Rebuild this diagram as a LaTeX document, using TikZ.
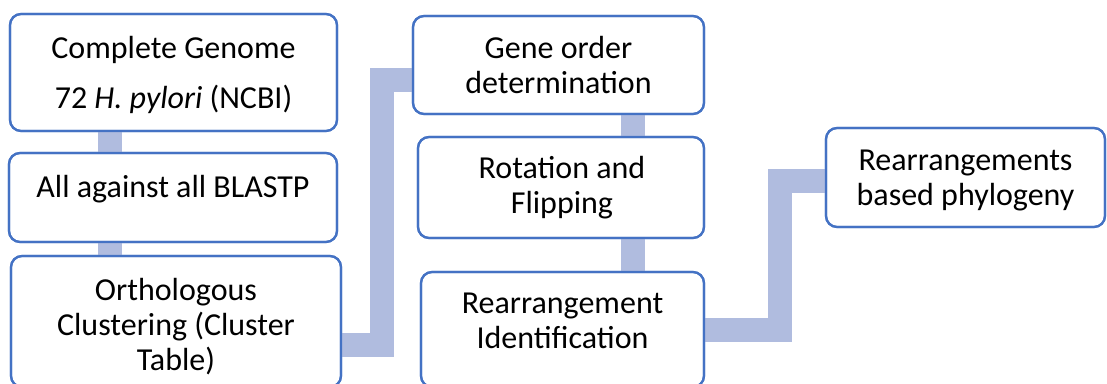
\documentclass[tikz,border=0pt]{standalone}
\usepackage{fontspec}
\setmainfont{Carlito}
\definecolor{boxblue}{RGB}{68,114,196}
\definecolor{connblue}{RGB}{176,188,223}
\begin{document}
\begin{tikzpicture}[x=1pt,y=-1pt,
  stepbox/.style={draw=boxblue, line width=2.2pt, rounded corners=11pt, fill=white},
  outline/.style={draw=boxblue, line width=2.2pt, rounded corners=11pt},
  conn/.style={draw=connblue, line width=24pt, line cap=butt, line join=miter},
  txt/.style={font=\fontsize{32}{35}\selectfont, inner sep=0pt, anchor=base}]
\useasboundingbox (0,0) rectangle (1107,383);
\clip (0,0) rectangle (1107,383);
% boxes (filled)
\path[stepbox] (10,14) rectangle (337,131);
\path[stepbox] (9,153) rectangle (337,242);
\path[stepbox] (11,256) rectangle (341,387);
\path[stepbox] (413,16) rectangle (704,114);
\path[stepbox] (418,137) rectangle (704,238);
\path[stepbox] (421,272) rectangle (704,387);
\path[stepbox] (826,128) rectangle (1105,227);
% connector end points
\coordinate (c12a) at (110,131); \coordinate (c12b) at (110,153);
\coordinate (c23a) at (110,242); \coordinate (c23b) at (110,256);
\coordinate (c34a) at (341,345); \coordinate (c34b) at (413,80);
\coordinate (c45a) at (632.5,114); \coordinate (c45b) at (632.5,137);
\coordinate (c56a) at (632.5,238); \coordinate (c56b) at (632.5,272);
\coordinate (c67a) at (704,330); \coordinate (c67b) at (826,180.5);
\draw[conn] (c12a) -- (c12b);
\draw[conn] (c23a) -- (c23b);
\draw[conn] (c34a) -- (382,345) -- (382,80) -- (c34b);
\draw[conn] (c45a) -- (c45b);
\draw[conn] (c56a) -- (c56b);
\draw[conn] (c67a) -- (779.5,330) -- (779.5,180.5) -- (c67b);
% box outlines over connector ends
\draw[outline] (10,14) rectangle (337,131);
\draw[outline] (9,153) rectangle (337,242);
\draw[outline] (11,256) rectangle (341,387);
\draw[outline] (413,16) rectangle (704,114);
\draw[outline] (418,137) rectangle (704,238);
\draw[outline] (421,272) rectangle (704,387);
\draw[outline] (826,128) rectangle (1105,227);
% texts
\node[txt] (t1a) at (173.5,58) {Complete Genome};
\node[txt] (t1b) at (173.5,108) {72 \textit{H. pylori} (NCBI)};
\node[txt] (t2) at (173,197) {All against all BLASTP};
\node[txt] (t3a) at (176,300) {Orthologous};
\node[txt] (t3b) at (176,335) {Clustering (Cluster};
\node[txt] (t3c) at (176,370) {Table)};
\node[txt] (t4a) at (558.5,58) {Gene order};
\node[txt] (t4b) at (558.5,93) {determination};
\node[txt] (t5a) at (562,178) {Rotation and};
\node[txt] (t5b) at (562,213) {Flipping};
\node[txt] (t6a) at (562.5,313) {Rearrangement};
\node[txt] (t6b) at (562.5,348) {Identification};
\node[txt] (t7a) at (965.5,170) {Rearrangements};
\node[txt] (t7b) at (965.5,205) {based phylogeny};
\end{tikzpicture}
\end{document}
